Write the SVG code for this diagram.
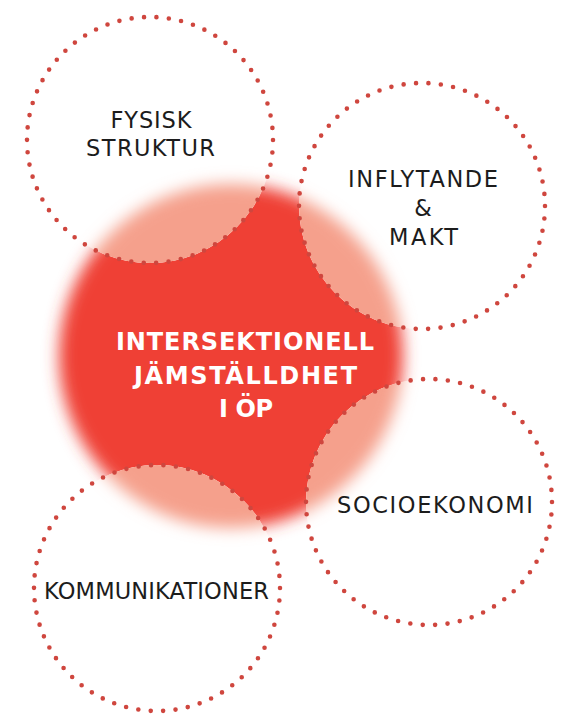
<svg xmlns="http://www.w3.org/2000/svg" width="570" height="723" viewBox="0 0 570 723">
  <defs>
    <filter id="blur" x="-20%" y="-20%" width="140%" height="140%">
      <feGaussianBlur stdDeviation="8"/>
    </filter>
    <clipPath id="rings">
      <circle cx="150" cy="140" r="123"/>
      <circle cx="422" cy="206" r="123"/>
      <circle cx="429" cy="502" r="123"/>
      <circle cx="157" cy="588" r="123"/>
    </clipPath>
  </defs>
  <style>
    .ring { fill: none; stroke: #cf463e; stroke-width: 4.6; stroke-linecap: round; stroke-dasharray: 0 12.465; }
    .lbl { font-family: "DejaVu Sans", "Open Sans", sans-serif; font-size: 22.5px; fill: #1c1c1c; text-anchor: middle; }
    .core { font-family: "DejaVu Sans", "Open Sans", sans-serif; font-size: 24px; font-weight: bold; fill: #ffffff; text-anchor: middle; }
  </style>
  <rect width="570" height="723" fill="#ffffff"/>
  <g id="center-blob">
    <circle cx="231" cy="356" r="172" fill="#ef4135" filter="url(#blur)"/>
    <g clip-path="url(#rings)">
      <rect width="570" height="723" fill="#ffffff"/>
      <circle cx="231" cy="356" r="172" fill="#f5a08c" filter="url(#blur)"/>
    </g>
  </g>
  <g id="connectors"></g>
  <g id="node-fysisk">
    <circle class="ring" cx="150" cy="140" r="123"/>
    <text class="lbl" x="151" y="128" textLength="81">FYSISK</text>
    <text class="lbl" x="150.5" y="156" textLength="129">STRUKTUR</text>
  </g>
  <g id="node-inflytande">
    <circle class="ring" cx="422" cy="206" r="123"/>
    <text class="lbl" x="423" y="187" textLength="150">INFLYTANDE</text>
    <text class="lbl" x="423" y="216">&amp;</text>
    <text class="lbl" x="423.5" y="245" textLength="69">MAKT</text>
  </g>
  <g id="node-socioekonomi">
    <circle class="ring" cx="429" cy="502" r="123"/>
    <text class="lbl" x="435" y="513" textLength="196">SOCIOEKONOMI</text>
  </g>
  <g id="node-kommunikationer">
    <circle class="ring" cx="157" cy="588" r="123"/>
    <text class="lbl" x="156.5" y="599" textLength="225">KOMMUNIKATIONER</text>
  </g>
  <g id="node-center">
    <text class="core" x="245" y="350" textLength="258">INTERSEKTIONELL</text>
    <text class="core" x="245.5" y="384" textLength="223">JÄMSTÄLLDHET</text>
    <text class="core" x="246" y="417" textLength="54">I ÖP</text>
  </g>
</svg>
